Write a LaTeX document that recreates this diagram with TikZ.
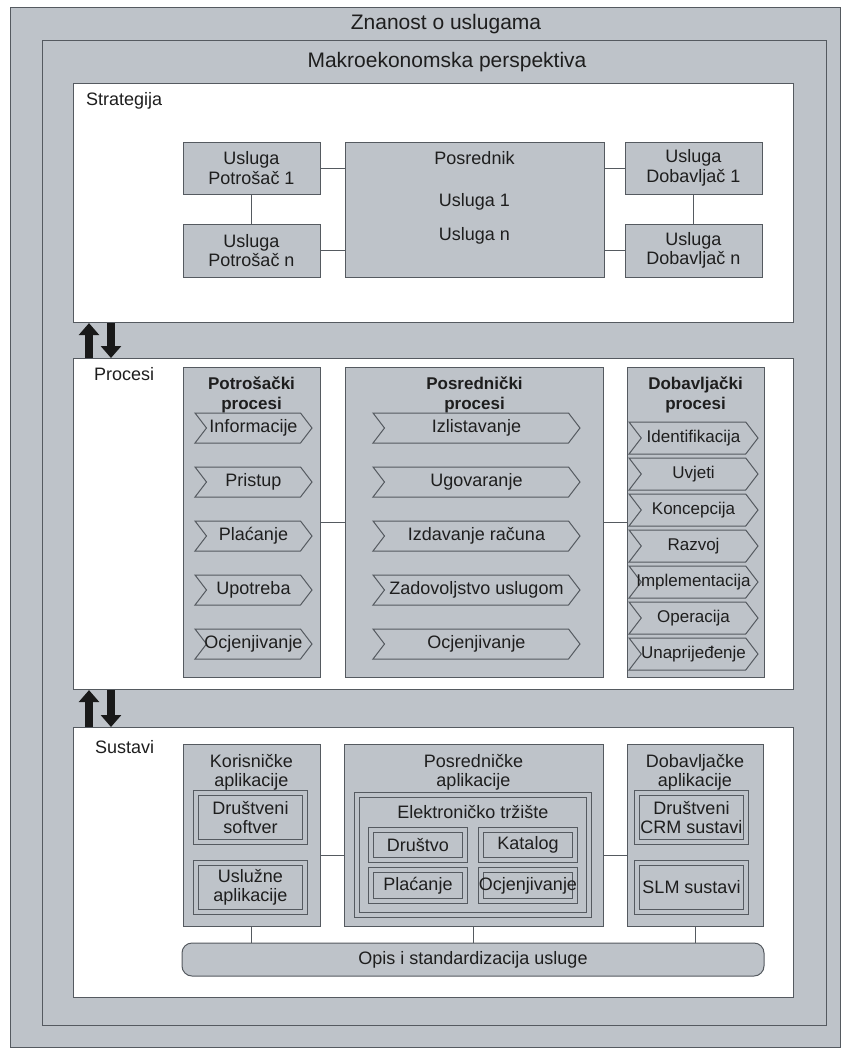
\documentclass[tikz,border=0pt]{standalone}
\usepackage{fontspec}
\setmainfont{Liberation Sans}
\usepackage{xcolor}
\usetikzlibrary{shapes.symbols,arrows.meta}

\definecolor{sivo}{RGB}{190,195,201}
\definecolor{rub}{RGB}{85,90,96}
\definecolor{tekst}{RGB}{30,30,30}

\begin{document}
\begin{tikzpicture}[x=1pt,y=-1pt,
  font=\fontsize{18}{19.5}\selectfont, text=tekst,
  okvir/.style={draw=rub,fill=sivo,line width=1.3pt,anchor=north west,inner sep=0pt},
  sekcija/.style={draw=rub,fill=white,line width=1.1pt,anchor=north west,inner sep=0pt},
  kutija/.style={draw=rub,fill=sivo,line width=1pt,inner sep=0pt,align=center},
  dupla/.style={kutija,double=sivo,double distance=3.5pt,line width=0.9pt},
  strelica/.style={kutija,shape=signal,signal to=east,signal from=west,
    signal pointer angle=105,minimum height=30pt},
  naslov/.style={font=\fontsize{21}{24}\selectfont,inner sep=0pt},
  oznaka/.style={anchor=west,inner sep=0pt},
  podnaslov/.style={align=center,inner sep=0pt},
  veza/.style={draw=rub,line width=1pt},
  tok/.style={draw=black!90,line width=8pt,-{Triangle[length=12pt,width=20pt]}}
]

  % Stupci
  \def\lijevo{251.5}
  \def\sredina{474.5}
  \def\desno{694}

  \useasboundingbox (0,0) rectangle (845,1053);

  % Okviri
  \node[okvir,minimum width=830pt,minimum height=1040pt] (znanost) at (10,7) {};
  \node[naslov] (znanostNaslov) at (446,24) {Znanost o uslugama};
  \node[okvir,minimum width=784pt,minimum height=985pt] (makro) at (42,40) {};
  \node[naslov] (makroNaslov) at (447,62) {Makroekonomska perspektiva};

  % Sekcije
  \node[sekcija,minimum width=720pt,minimum height=239pt] (strategija) at (73,83) {};
  \node[sekcija,minimum width=720pt,minimum height=331pt] (procesi) at (73,358) {};
  \node[sekcija,minimum width=720pt,minimum height=270pt] (sustavi) at (73,727) {};
  \node[oznaka] (strategijaNaslov) at (86,101) {Strategija};
  \node[oznaka] (procesiNaslov) at (94,374) {Procesi};
  \node[oznaka] (sustaviNaslov) at (95,747) {Sustavi};

  % Strelice izmedu sekcija
  \draw[tok] ([xshift=16pt]procesi.north west) -- ([xshift=16pt]strategija.south west);
  \draw[tok] ([xshift=38pt]strategija.south west) -- ([xshift=38pt]procesi.north west);
  \draw[tok] ([xshift=16pt]sustavi.north west) -- ([xshift=16pt]procesi.south west);
  \draw[tok] ([xshift=38pt]procesi.south west) -- ([xshift=38pt]sustavi.north west);

  % Strategija
  \node[kutija,minimum width=137pt,minimum height=52pt] (up1) at (\lijevo,168) {Usluga\\Potrošač 1};
  \node[kutija,minimum width=137pt,minimum height=53pt] (upn) at (\lijevo,250.5) {Usluga\\Potrošač n};
  \node[kutija,minimum width=259pt,minimum height=135pt] (posrednik) at (\sredina,209.5) {};
  \node[podnaslov] (posrednikNaslov) at (\sredina,158) {Posrednik};
  \node[podnaslov] (usluga1) at (\sredina,202) {Usluga 1};
  \node[podnaslov] (uslugaN) at (\sredina,236) {Usluga n};
  \node[kutija,minimum width=137pt,minimum height=52pt] (ud1) at (693.5,168) {Usluga\\Dobavljač 1};
  \node[kutija,minimum width=137pt,minimum height=53pt] (udn) at (693.5,250.5) {Usluga\\Dobavljač n};
  \draw[veza] (up1.east) -- (up1.east -| posrednik.west);
  \draw[veza] (upn.east) -- (upn.east -| posrednik.west);
  \draw[veza] (up1.south) -- (upn.north);
  \draw[veza] (ud1.west) -- (ud1.west -| posrednik.east);
  \draw[veza] (udn.west) -- (udn.west -| posrednik.east);
  \draw[veza] (ud1.south) -- (udn.north);

  % Procesi
  \node[kutija,minimum width=137pt,minimum height=310pt] (potrosacki) at (\lijevo,522) {};
  \node[kutija,minimum width=258pt,minimum height=310pt] (posrednicki) at (\sredina,522) {};
  \node[kutija,minimum width=137pt,minimum height=310pt] (dobavljacki) at (695.5,522) {};
  \node[podnaslov,font=\fontsize{17}{20}\selectfont\bfseries] (potrosackiNaslov) at (\lijevo,395) {Potrošački\\procesi};
  \node[podnaslov,font=\fontsize{17}{20}\selectfont\bfseries] (posrednickiNaslov) at (\sredina,395) {Posrednički\\procesi};
  \node[podnaslov,font=\fontsize{17}{20}\selectfont\bfseries] (dobavljackiNaslov) at (695.5,395) {Dobavljački\\procesi};
  \draw[veza] (potrosacki.east) -- (posrednicki.west);
  \draw[veza] (posrednicki.east) -- (dobavljacki.west);

  \foreach \t [count=\i] in {Informacije,Pristup,Plaćanje,Upotreba,Ocjenjivanje}
    \node[strelica,minimum width=117pt] (pot\i) at (253.5,{428+54*(\i-1)}) {\makebox[0pt]{\t}};
  \foreach \t [count=\i] in {Izlistavanje,Ugovaranje,Izdavanje računa,Zadovoljstvo uslugom,Ocjenjivanje}
    \node[strelica,minimum width=207pt] (pos\i) at (476.5,{428+54*(\i-1)}) {\makebox[0pt]{\t}};
  \foreach \t [count=\i] in {Identifikacija,Uvjeti,Koncepcija,Razvoj,Implementacija,Operacija,Unaprijeđenje}
    \node[strelica,minimum width=129pt,minimum height=32pt,font=\fontsize{17}{19}\selectfont] (dob\i) at (693.5,{438+36*(\i-1)}) {\makebox[0pt]{\t}};

  % Sustavi
  \node[kutija,minimum width=137pt,minimum height=182pt] (korisnicke) at (\lijevo,835) {};
  \node[kutija,minimum width=259pt,minimum height=182pt] (posrednickeApl) at (473.5,835) {};
  \node[kutija,minimum width=136pt,minimum height=182pt] (dobavljackeApl) at (695,835) {};
  \node[podnaslov] (korisnickeNaslov) at (\lijevo,772.5) {Korisničke\\aplikacije};
  \node[podnaslov] (posrednickeNaslov) at (473.5,772.5) {Posredničke\\aplikacije};
  \node[podnaslov] (dobavljackeNaslov) at (695,772.5) {Dobavljačke\\aplikacije};

  \node[dupla,minimum width=109pt,minimum height=49pt] (drustveni) at (250.5,817.5) {Društveni\\softver};
  \node[dupla,minimum width=109pt,minimum height=49pt] (usluzne) at (250.5,887.5) {Uslužne\\aplikacije};
  \node[dupla,minimum width=232pt,minimum height=120pt] (trziste) at (473,855) {};
  \node[podnaslov] (trzisteNaslov) at (473,812) {Elektroničko tržište};
  \node[dupla,minimum width=94pt,minimum height=30pt] (drustvo) at (418,845) {Društvo};
  \node[dupla,minimum width=94pt,minimum height=31pt] (placanje) at (418,885.5) {Plaćanje};
  \node[dupla,minimum width=94pt,minimum height=30pt] (katalog) at (528,845) {Katalog};
  \node[dupla,minimum width=94pt,minimum height=31pt] (ocjenjivanje) at (528,885.5) {\makebox[0pt]{Ocjenjivanje}};
  \node[dupla,minimum width=109pt,minimum height=49pt] (crm) at (691.5,817.5) {Društveni\\CRM sustavi};
  \node[dupla,minimum width=109pt,minimum height=49pt] (slm) at (691.5,887.5) {SLM sustavi};

  \node[kutija,rounded corners=10pt,minimum width=582pt,minimum height=33pt] (opis) at (473,959.5) {Opis i standardizacija usluge};

  \draw[veza] (korisnicke.east |- trziste.west) -- (posrednickeApl.west |- trziste.west);
  \draw[veza] (posrednickeApl.east |- trziste.east) -- (dobavljackeApl.west |- trziste.east);
  \draw[veza] (korisnicke.south) -- (korisnicke.south |- opis.north);
  \draw[veza] (posrednickeApl.south) -- (posrednickeApl.south |- opis.north);
  \draw[veza] (dobavljackeApl.south) -- (dobavljackeApl.south |- opis.north);

\end{tikzpicture}
\end{document}
